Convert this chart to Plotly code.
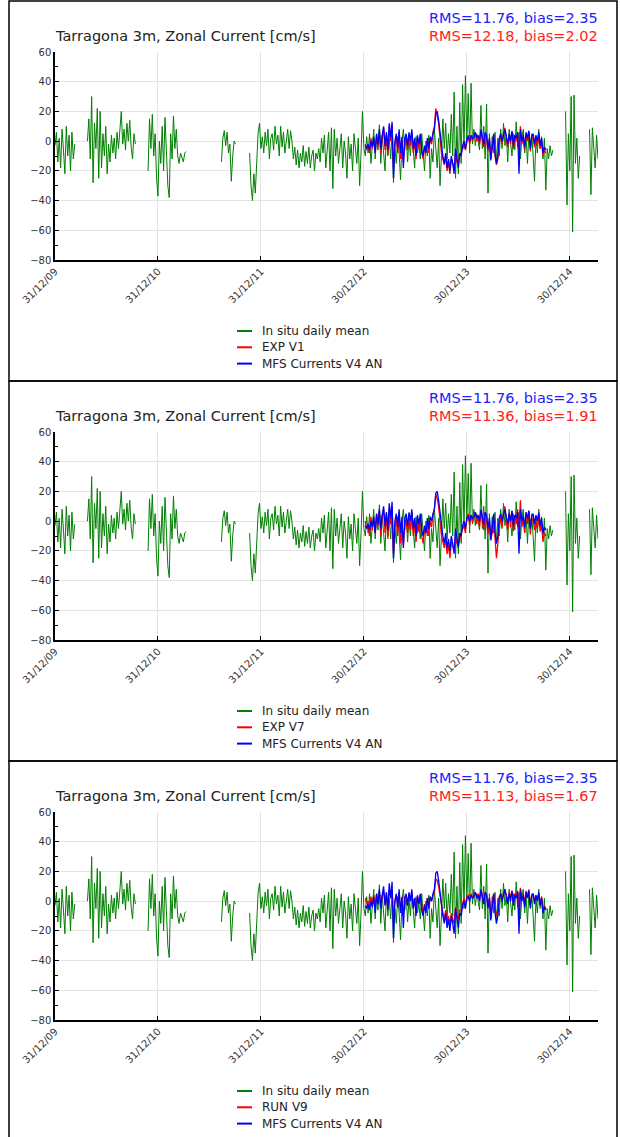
import pandas as pd
import plotly.graph_objects as go

# ---------------- data ----------------
insitu_start = "2009-12-31"   # 5-day sampling of the daily in situ record
model_start = "2013-01-04"    # 5-day sampling of model series
step_days = 5

insitu = (
    [-3, 6, -14, 2, -18, 8, -6, -22, 10, -10, 4, -20, 6, -12, -2]
    + [None] * 8
    + [0, 15, -12, 30, -28, 12, -5, 22, -25, 20, -18, 5, -10, 10, -22, -2, -14, 4,
       -8, 2, -12, 6, -5, 10, 20, -2, 8, -6, 12, 0, 14, -4, -12, 5, -2]
    + [None] * 8
    + [-20, 15, -5, 18, -10, 5, -25, -37, 0, -15, 10, -20, 16, -8, -30, -38, 5, -12,
       17, -5, 8, -10, -15, -8, -12, -14, -8, -7]
    + [None] * 24
    + [-14, 2, 7, -3, 6, -8, -2, -27, -10, 0, -2]
    + [None] * 9
    + [-8, -30, -40, -22, -35, -10, 5, 12, -5, 3,
       -8, 6, -3, 8, -12, 2, 5, -6, 10, -2,
       4, -10, 10, -4, 6, -8, 2, 8, -5, 7,
       0, -12, -4, -16, -6, -18, -8, -14, -3, -17,
       -7, -15, -4, -18, -10, -6, -20, -8, -12, -5,
       -14, 2, -8, 4, -18, -6, 6, -20, 9, -32,
       8, -10, 2, -15, -4, 5, -18, 0, -8, -25,
       3, -12, -2, -20, 5, -6, -15, 2, -30, -8,
       20, -5, -10, 3, -8, 5, -15, -3, 8, -12,
       2, -6, 11, -15, 4, -8, -20, 6, -10, 2,
       -12, 5, -28, -5, -15, 3, -8, -26, 0, 8,
       -6, 4, -14, 2, -10, 6, -4, -18, 3, -8,
       -2, -12, 5, -6, -20, 0, -10, 4, -25, -5,
       -14, 8, -8, -18, 2, -30, -10, 15, -5, 12,
       -12, 5, -8, 18, -10, 33, -25, 10, -22, 26,
       -15, 38, -5, 44, 0, 32, -8, 39, -2, 8,
       -3, 5, 0, -6, 24, -5, 10, -12, 25, -35,
       5, -12, 3, -8, 6, -15, 2, -10, 8, -5,
       12, -3, 4, -14, 8, 0, -10, 5, -6, 13,
       -4, 6, -12, 2, 8, -8, 4, -15, 6, -3,
       5, -10, -27, 2, -8, 8, -5, 3, -12, 2,
       -33, -5, -12, -3, -10, -6]
    + [None] * 8
    + [20, -43, 5, -20, 30, -61, 31, -15, 2, -25, -10]
    + [None] * 6
    + [8, -36, 9, -5, -18, 4, -12]
)

mfs_v4 = [
    -3, -5, -2, -6, 0, -4, 3, -8, 5, -2,
    8, -5, 4, 10, -3, 6, -6, 12, 2, 13,
    -25, 0, 5, -4, 8, -8, 3, -18, 2, 5,
    -3, 6, 0, 8, -5, 2, -10, 4, -2, 5,
    -6, -10, -3, -8, 2, -5, 3, 0, 5, 8,
    19, 20, 14, 5, -5, -10, -15, -8, -18, -12,
    -20, -10, -15, -22, -5, -12, -18, -8, -10, -3,
    0, -5, 2, 3, 0, 4, 2, 3, 6, 2,
    4, 0, 8, 3, -2, 6, 4, -5, 2, -13,
    -3, 5, -8, -15, -10, 2, 5, 0, 4, 8,
    3, -2, 5, 0, 7, -3, 4, 2, 6, -22,
    8, 0, 4, -4, 6, 2, 7, -5, 3, 5,
    -2, 4, 0, 6, -3, 2, -8, -4, -6,
]

exp_v1 = [
    -2, -6, -3, -8, 2, -5, 1, -6, 4, -4,
    6, -8, 2, 9, -6, 4, -9, 10, 0, 11,
    -18, -3, 3, -8, 6, -12, 0, -14, 0, 3,
    -6, 4, -3, 6, -8, 0, -12, 2, -5, 3,
    -8, -12, -5, -6, 0, -8, 2, -2, 6, 10,
    22, 18, 12, 2, -8, -12, -16, -10, -20, -14,
    -22, -12, -16, -18, -8, -14, -15, -10, -8, -4,
    -2, -6, 0, 4, -2, 3, 0, 2, 5, 0,
    3, -2, 6, 1, -4, 5, 2, -7, 0, -10,
    -5, 3, -10, -16, -12, 0, 3, -2, 3, 9,
    2, -4, 4, -2, 6, -5, 3, 0, 5, -8,
    10, -2, 3, -6, 5, 0, 6, -7, 1, 3,
    -4, 2, -3, 4, -5, 0, -10, -6, -8,
]

exp_v7 = [
    0, -5, -4, -10, 3, -6, 2, -8, 5, -3,
    7, -10, 3, 8, -8, 5, -12, 9, -2, 10,
    -22, -5, 2, -10, 5, -15, -2, -16, -3, 2,
    -8, 3, -6, 5, -10, -2, -14, 0, -7, 2,
    -10, -15, -6, -8, -2, -10, 0, -4, 4, 8,
    18, 15, 10, 0, -10, -14, -18, -12, -22, -16,
    -25, -14, -18, -20, -10, -15, -16, -12, -8, -5,
    -3, -8, 2, 5, -3, 4, -1, 3, 6, -2,
    4, -4, 7, 0, -6, 6, 1, -9, -2, -12,
    -8, 2, -14, -25, -15, -3, 2, -4, 5, 10,
    0, -6, 6, -4, 7, -7, 4, -2, 8, -5,
    14, -4, 2, -8, 6, -2, 7, -9, 0, 2,
    -6, 0, -5, 3, -7, -2, -14, -8, -10,
]

run_v9 = [
    2, -2, 0, -4, 3, -2, 4, -3, 5, 0,
    6, -4, 3, 7, -2, 5, -5, 8, 2, 7,
    -12, 0, 4, -3, 6, -8, 2, -10, 3, 4,
    -2, 5, 0, 6, -4, 2, -8, 3, -2, 4,
    -4, -8, -2, -5, 2, -4, 3, 0, 4, 6,
    15, 14, 10, 3, -4, -8, -12, -6, -14, -10,
    -16, -8, -12, -15, -4, -10, -12, -6, -6, -2,
    2, -3, 3, 4, 1, 5, 2, 4, 6, 3,
    5, 1, 7, 3, 0, 6, 4, -3, 2, -8,
    -2, 5, -5, -10, -6, 3, 5, 1, 5, 8,
    4, 0, 6, 2, 7, -1, 5, 3, 7, -10,
    9, 2, 5, -2, 7, 3, 8, -3, 4, 5,
    0, 4, 1, 5, -2, 3, -6, -3, -5,
]

panel_exp_names = ["EXP V1", "EXP V7", "RUN V9"]
panel_exp_values = [exp_v1, exp_v7, run_v9]
insitu_name = "In situ daily mean"
mfs_name = "MFS Currents V4 AN"
rms_mfs = "RMS=11.76, bias=2.35"
rms_exp = ["RMS=12.18, bias=2.02", "RMS=11.36, bias=1.91", "RMS=11.13, bias=1.67"]
title_text = "Tarragona 3m, Zonal Current [cm/s]"
tick_dates = ["2009-12-31", "2010-12-31", "2011-12-31", "2012-12-30", "2013-12-30", "2014-12-30"]
tick_labels = ["31/12/09", "31/12/10", "31/12/11", "30/12/12", "30/12/13", "30/12/14"]
y_ticks = [-80, -60, -40, -20, 0, 20, 40, 60]

# ---------------- figure ----------------
W, H = 620, 1137
insitu_dates = pd.date_range(insitu_start, periods=len(insitu), freq=f"{step_days}D")
model_dates = pd.date_range(model_start, periods=len(mfs_v4), freq=f"{step_days}D")

GREEN = "#008000"
RED = "#ff0000"
BLUE = "#0000ff"
FONT = "DejaVu Sans"

fig = go.Figure()

def px_y(y):
    return 1 - y / H

panel_offset = 380
annotations = []
shapes = []
layout_axes = {}

for k in range(3):
    off = panel_offset * k
    sfx = "" if k == 0 else str(k + 1)
    xa, ya = "x" + sfx, "y" + sfx
    names = [insitu_name, panel_exp_names[k], mfs_name]
    colors = [GREEN, RED, BLUE]

    fig.add_trace(go.Scatter(x=insitu_dates, y=insitu, mode="lines", name=names[0],
                             line=dict(color=GREEN, width=1), connectgaps=False,
                             xaxis=xa, yaxis=ya, showlegend=False))
    fig.add_trace(go.Scatter(x=model_dates, y=panel_exp_values[k], mode="lines", name=names[1],
                             line=dict(color=RED, width=1.3), xaxis=xa, yaxis=ya, showlegend=False))
    fig.add_trace(go.Scatter(x=model_dates, y=mfs_v4, mode="lines", name=names[2],
                             line=dict(color=BLUE, width=1.3), xaxis=xa, yaxis=ya, showlegend=False))

    top, bot = 52 + off, 260 + off
    layout_axes["xaxis" + sfx] = dict(
        domain=[55 / W, 598 / W], anchor=ya, type="date", automargin=False,
        range=["2009-12-31", "2015-04-09"],
        tickvals=tick_dates, ticktext=tick_labels, tickangle=-45,
        tickfont=dict(size=10, color="#333333", family=FONT),
        showgrid=True, gridcolor="#e3e3e3", gridwidth=1,
        showline=True, linecolor="black", linewidth=1.5,
        ticks="inside", ticklen=4, tickcolor="black",
        zeroline=False,
    )
    layout_axes["yaxis" + sfx] = dict(
        domain=[px_y(bot), px_y(top)], anchor=xa, automargin=False,
        range=[-80, 60], tickvals=y_ticks,
        tickfont=dict(size=10, color="#333333", family=FONT),
        showgrid=True, gridcolor="#e3e3e3", gridwidth=1,
        showline=True, linecolor="black", linewidth=1.5,
        ticks="inside", ticklen=4, tickcolor="black",
        minor=dict(dtick=10, ticks="inside", ticklen=3, tickcolor="black", showgrid=False),
        zeroline=False,
    )

    annotations.append(dict(text=title_text, x=53 / W, y=px_y(36 + off), xref="paper", yref="paper",
                            xanchor="left", yanchor="middle", showarrow=False,
                            font=dict(size=14.5, color="#222222", family=FONT)))
    annotations.append(dict(text=rms_mfs, x=600 / W, y=px_y(18 + off), xref="paper", yref="paper",
                            xanchor="right", yanchor="middle", showarrow=False,
                            font=dict(size=14.5, color="#2020ff", family=FONT)))
    annotations.append(dict(text=rms_exp[k], x=600 / W, y=px_y(36 + off), xref="paper", yref="paper",
                            xanchor="right", yanchor="middle", showarrow=False,
                            font=dict(size=14.5, color="#ff2020", family=FONT)))

    # legend: short line samples + labels
    for j in range(3):
        yc = 331 + 16.3 * j + off
        shapes.append(dict(type="line", xref="paper", yref="paper",
                           x0=237 / W, x1=252 / W, y0=px_y(yc), y1=px_y(yc),
                           line=dict(color=colors[j], width=2)))
        annotations.append(dict(text=names[j], x=260 / W, y=px_y(yc), xref="paper", yref="paper",
                                xanchor="left", yanchor="middle", showarrow=False,
                                font=dict(size=12, color="#222222", family=FONT)))

    y0 = 1 if k == 0 else 381 + (k - 1) * 380
    y1 = 381 + k * 380 if k < 2 else H + 5
    shapes.append(dict(type="rect", xref="paper", yref="paper",
                       x0=9 / W, x1=617 / W, y0=px_y(y1), y1=px_y(y0),
                       line=dict(color="black", width=1.5), fillcolor="rgba(0,0,0,0)"))

fig.update_layout(
    width=W, height=H, margin=dict(l=0, r=0, t=0, b=0, autoexpand=False),
    paper_bgcolor="white", plot_bgcolor="white",
    showlegend=False, annotations=annotations, shapes=shapes,
    font=dict(family=FONT),
    **layout_axes,
)

fig.write_html("out.html")
